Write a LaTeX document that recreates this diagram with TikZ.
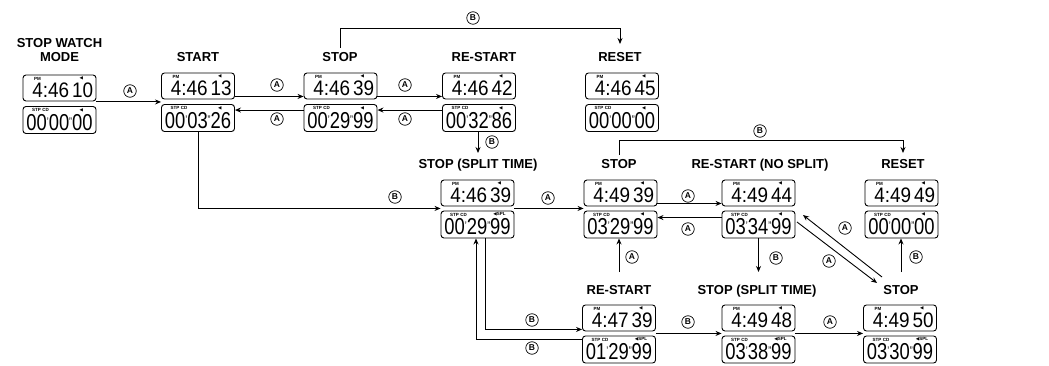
\documentclass[tikz,border=0pt]{standalone}
\usepackage{fontspec}
\usepackage{graphicx}
\setmainfont{Liberation Sans}
\newfontfamily\symf{DejaVu Sans}
\usetikzlibrary{arrows.meta}
\newcommand{\mk}[1]{\raisebox{5pt}{\fontsize{11}{11}\selectfont #1}}
\newcommand{\lcd}[7]{%
  \node[ubox] (#1-u) at (#2,#3) {};
  \node[lbox] (#1-l) at (#2,#4) {};
  \node[digu] (#1-ut) at ([xshift=-3pt,yshift=4pt]#1-u.south east) {\scalebox{0.9}[1]{#5}};
  \node[digl] (#1-lt) at ([yshift=3.5pt]#1-l.south) {\scalebox{0.8}[1]{#6}};
  \node[ind] (#1-pm) at ([xshift=15pt,yshift=-4pt]#1-u.north west) {PM};
  \node[ind] (#1-um) at ([xshift=-15pt,yshift=-4pt]#1-u.north east) {{\symf ◀}};
  \node[ind] (#1-st) at ([xshift=18pt,yshift=-4pt]#1-l.north west) {STP\,\,CD};
  \node[ind] (#1-lm) at ([xshift=-15pt,yshift=-4pt]#1-l.north east) {#7};
}
\begin{document}
\begin{tikzpicture}[x=1pt,y=-1pt,
  box/.style={draw,line width=0.9pt,rounded corners=3pt,minimum width=73pt,inner sep=0pt},
  ubox/.style={box,minimum height=26pt},
  lbox/.style={box,minimum height=27pt},
  digu/.style={anchor=base east,inner sep=0pt,font=\fontsize{21}{21}\selectfont},
  digl/.style={anchor=base,inner sep=0pt,font=\fontsize{23}{23}\selectfont},
  ind/.style={inner sep=0pt,font=\fontsize{4.5}{5}\selectfont\bfseries},
  lab/.style={anchor=base,inner sep=1pt,align=center,font=\fontsize{13}{14}\selectfont\bfseries},
  arr/.style={line width=0.9pt,-{Stealth[length=6pt,width=5pt]}},
  ln/.style={line width=0.9pt},
  key/.style={circle,draw,line width=0.7pt,inner sep=0pt,minimum size=12.5pt,font=\fontsize{8.5}{8.5}\selectfont\bfseries},
]
\useasboundingbox (0,0) rectangle (1049,366);

% ---------- displays ----------
\lcd{swm}{59.5}{88}{120}{4:46\,10}{00\mk{'}00\mk{''}00}{{\symf ◀}}
\lcd{start}{198}{86}{118}{4:46\,13}{00\mk{'}03\mk{''}26}{{\symf ◀}}
\lcd{stop}{340.5}{86}{118}{4:46\,39}{00\mk{'}29\mk{''}99}{{\symf ◀}}
\lcd{restart}{479}{86}{118}{4:46\,42}{00\mk{'}32\mk{''}86}{{\symf ◀}}
\lcd{reset}{622}{86}{118}{4:46\,45}{00\mk{'}00\mk{''}00}{{\symf ◀}}
\lcd{split}{477.5}{193}{224.5}{4:46\,39}{00\mk{'}29\mk{''}99}{{\symf ◀}SPL}
\lcd{stopR}{620.5}{193}{224.5}{4:49\,39}{03\mk{'}29\mk{''}99}{{\symf ◀}}
\lcd{rsns}{758.5}{193}{224.5}{4:49\,44}{03\mk{'}34\mk{''}99}{{\symf ◀}}
\lcd{resetR}{901.5}{193}{224.5}{4:49\,49}{00\mk{'}00\mk{''}00}{{\symf ◀}}
\lcd{brs}{619}{318}{349.5}{4:47\,39}{01\mk{'}29\mk{''}99}{{\symf ◀}SPL}
\lcd{bsplit}{758.5}{318}{349.5}{4:49\,48}{03\mk{'}38\mk{''}99}{{\symf ◀}SPL}
\lcd{bstop}{900}{318}{349.5}{4:49\,50}{03\mk{'}30\mk{''}99}{{\symf ◀}SPL}

% ---------- labels ----------
\node[lab] (swmlab) at (59.5,62) {STOP WATCH\\MODE};
\node[lab] (startlab) at (198,62) {START};
\node[lab] (stoplab) at (340,62) {STOP};
\node[lab] (restartlab) at (484,62) {RE-START};
\node[lab] (resetlab) at (620,62) {RESET};
\node[lab] (splitlab) at (478,168.5) {STOP (SPLIT TIME)};
\node[lab] (stopRlab) at (619,168.5) {STOP};
\node[lab] (rsnslab) at (760,168.5) {RE-START (NO SPLIT)};
\node[lab] (resetRlab) at (903,168.5) {RESET};
\node[lab] (brslab) at (619,294) {RE-START};
\node[lab] (bsplitlab) at (757,294) {STOP (SPLIT TIME)};
\node[lab] (bstoplab) at (901,294) {STOP};

% ---------- helper coordinates ----------
\coordinate (topline) at (340,28);
\coordinate (midline) at (619,140);
\coordinate (r3) at (0,272);
\coordinate (r1tip) at (0,44);
\coordinate (r2tip) at (0,153);
\coordinate (d1a) at (882,277);
\coordinate (d1b) at (803,215);
\coordinate (d2a) at (797,222);
\coordinate (d2b) at (877,283);

% ---------- row 1 connectors ----------
\draw[arr] ([yshift=-0.5pt]swm-u.south east) -- ([yshift=-2.5pt]start-u.south west);
\node[key] (k1) at (130,91) {A};
\draw[arr] ([yshift=3pt]start-u.south east) -- ([yshift=3pt]stop-u.south west);
\node[key] (k2) at (277,85) {A};
\draw[arr] ([yshift=-6pt]stop-l.north west) -- ([yshift=-6pt]start-l.north east);
\node[key] (k3) at (277,119) {A};
\draw[arr] ([yshift=3pt]stop-u.south east) -- ([yshift=3pt]restart-u.south west);
\node[key] (k4) at (405,85) {A};
\draw[arr] ([yshift=-6pt]restart-l.north west) -- ([yshift=-6pt]stop-l.north east);
\node[key] (k5) at (405,119) {A};
\draw[arr] ([xshift=-1pt]restart-l.south) -- ([xshift=-1pt]restart-l.south |- r2tip);
\node[key] (k6) at (492,142) {B};
\draw[arr] ([yshift=4pt]stoplab.north) -- (stoplab.north |- topline) -| (resetlab.north |- r1tip);
\node[key] (k7) at (473,18) {B};

% ---------- START to split ----------
\draw[arr] (start-l.south) |- ([yshift=-2pt]split-u.south west);
\node[key] (k8) at (395,197) {B};

% ---------- row 2 connectors ----------
\draw[arr] ([yshift=-2pt]split-u.south east) -- ([yshift=-2pt]stopR-u.south west);
\node[key] (k9) at (548,198) {A};
\draw[arr] ([yshift=3pt]stopR-u.south east) -- ([yshift=3pt]rsns-u.south west);
\node[key] (k10) at (688,196) {A};
\draw[arr] ([yshift=-7pt]rsns-l.north west) -- ([yshift=-7pt]stopR-l.north east);
\node[key] (k11) at (688,229) {A};
\draw[arr] ([yshift=3pt]stopRlab.north) -- (stopRlab.north |- midline) -| (resetRlab.north |- r2tip);
\node[key] (k12) at (760,131) {B};

% ---------- verticals to row 3 ----------
\draw[arr] (rsns-l.south) -- (rsns-l.south |- r3);
\node[key] (k13) at (776,258) {B};
\draw[arr] (brslab.north |- r3) -- (brslab.north |- stopR-l.south);
\node[key] (k14) at (632,257) {A};
\draw[arr] (bstoplab.north |- r3) -- (bstoplab.north |- resetR-l.south);
\node[key] (k15) at (916,257) {B};

% ---------- diagonals ----------
\draw[arr] (d1a) -- (d1b);
\node[key] (k16) at (845,228) {A};
\draw[arr] (d2a) -- (d2b);
\node[key] (k17) at (829,261) {A};

% ---------- row 3 connectors ----------
\draw[arr] ([yshift=-2pt]brs-u.south east) -- ([yshift=-2pt]bsplit-u.south west);
\node[key] (k18) at (688,322) {B};
\draw[arr] ([yshift=-2pt]bsplit-u.south east) -- ([yshift=-2pt]bstop-u.south west);
\node[key] (k19) at (830,322) {A};

% ---------- split <-> bottom RE-START ----------
\draw[arr] ([xshift=7.5pt]split-l.south) |- ([yshift=2pt]brs-u.south west);
\node[key] (k20) at (532,320) {B};
\draw[arr] ([yshift=-4pt]brs-l.north west) -| ([xshift=-1.5pt]split-l.south);
\node[key] (k21) at (532,348) {B};
\end{tikzpicture}
\end{document}
